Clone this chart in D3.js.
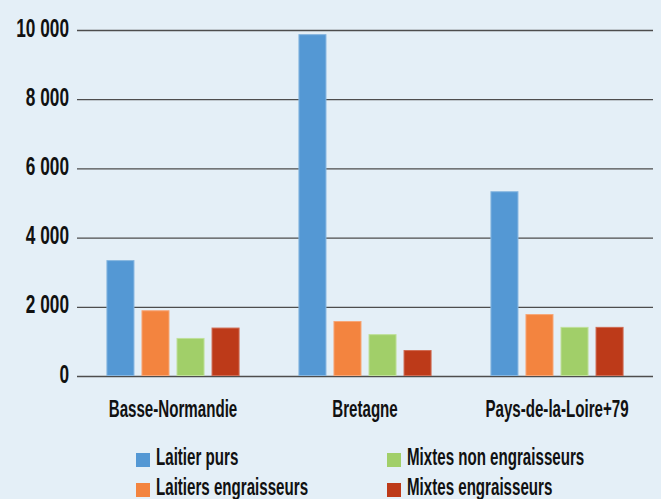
<!DOCTYPE html>
<html lang="fr">
<head>
  <meta charset="utf-8">
  <title>Exploitations laitières par région</title>
  <script src="https://d3js.org/d3.v7.min.js"></script>
</head>
<style>
  body { margin: 0; background: #e4eff7; }
  svg text { font-family: "Liberation Sans", Arial, sans-serif; font-weight: bold; fill: #111; }
</style>
<body>
  <div class="chart"></div>
</body>
<script>
// data
var regions = ["Basse-Normandie", "Bretagne", "Pays-de-la-Loire+79"];
var types = ["Laitier purs", "Laitiers engraisseurs", "Mixtes non engraisseurs", "Mixtes engraisseurs"];
var laitierPurs = [3350, 9880, 5340];
var laitiersEngraisseurs = [1900, 1590, 1790];
var mixtesNonEngraisseurs = [1100, 1210, 1420];
var mixtesEngraisseurs = [1400, 750, 1420];
var yTicks = [0, 2000, 4000, 6000, 8000, 10000];
var colors = ["#5498d4", "#f3843f", "#a1cf69", "#bd3a19"];
var edges = ["#86b6e0", "#f7a677", "#bfe09a", "#cf6a52"];

var series = [laitierPurs, laitiersEngraisseurs, mixtesNonEngraisseurs, mixtesEngraisseurs];

var W = 661, H = 499;
var margin = {top: 30, left: 77, right: 8, bottom: 123};
var width = W - margin.left - margin.right;
var height = H - margin.top - margin.bottom;

var svg = d3.select(".chart").append("svg")
  .attr("width", W)
  .attr("height", H);

var canvas = svg.append("g")
  .attr("transform", "translate(" + margin.left + "," + margin.top + ")");

var x0 = d3.scaleBand().domain(regions).range([0, width]).padding(0);
var x1 = d3.scaleBand().domain(d3.range(types.length))
  .range([0, x0.bandwidth()])
  .paddingInner(0.2)
  .paddingOuter(0.84);
var y = d3.scaleLinear().domain([0, 10000]).range([height, 0]);

var fr = d3.formatLocale({decimal: ",", thousands: "\u00a0", grouping: [3], currency: ["", " €"]});

// y axis + gridlines
var yAxis = canvas.append("g")
  .call(d3.axisLeft(y).tickValues(yTicks).tickSize(-width).tickFormat(fr.format(",")));
yAxis.select(".domain").remove();
yAxis.selectAll("line").attr("stroke", "#4d4d4d").attr("stroke-width", 1.3);
yAxis.selectAll("text")
  .attr("x", 0).attr("dy", null).attr("y", 6)
  .attr("transform", "translate(-8,0) scale(0.69,1)")
  .style("font-size", "25px")
  .style("fill", "#111");

// bars
var groups = canvas.selectAll(".region")
  .data(regions)
  .enter().append("g")
  .attr("class", "region")
  .attr("transform", function(d) { return "translate(" + x0(d) + ",0)"; });

groups.selectAll("rect")
  .data(function(d, i) { return series.map(function(s, j) { return {k: j, v: s[i]}; }); })
  .enter().append("rect")
  .attr("x", function(d) { return x1(d.k) + 0.5; })
  .attr("width", x1.bandwidth() - 1)
  .attr("y", function(d) { return y(d.v) + 0.5; })
  .attr("height", function(d) { return height - y(d.v) - 1; })
  .attr("fill", function(d) { return colors[d.k]; })
  .attr("stroke", function(d) { return edges[d.k]; })
  .attr("stroke-width", 1);

// category labels
canvas.selectAll(".cat")
  .data(regions)
  .enter().append("text")
  .attr("class", "cat")
  .attr("text-anchor", "middle")
  .attr("transform", function(d) {
    return "translate(" + (x0(d) + x0.bandwidth() / 2) + "," + (height + 41) + ") scale(0.63,1)";
  })
  .style("font-size", "24px")
  .text(function(d) { return d; });

// legend
var legendX = [136, 387];
var legendY = [453, 483];
var legend = svg.selectAll(".legend")
  .data(types)
  .enter().append("g")
  .attr("class", "legend")
  .attr("transform", function(d, i) {
    return "translate(" + legendX[Math.floor(i / 2) ] + "," + legendY[i % 2] + ")";
  });

legend.append("rect")
  .attr("width", 14)
  .attr("height", 14)
  .attr("fill", function(d, i) { return colors[i]; });

legend.append("text")
  .attr("transform", "translate(20,12) scale(0.63,1)")
  .style("font-size", "24px")
  .text(function(d) { return d; });
</script>
</html>
